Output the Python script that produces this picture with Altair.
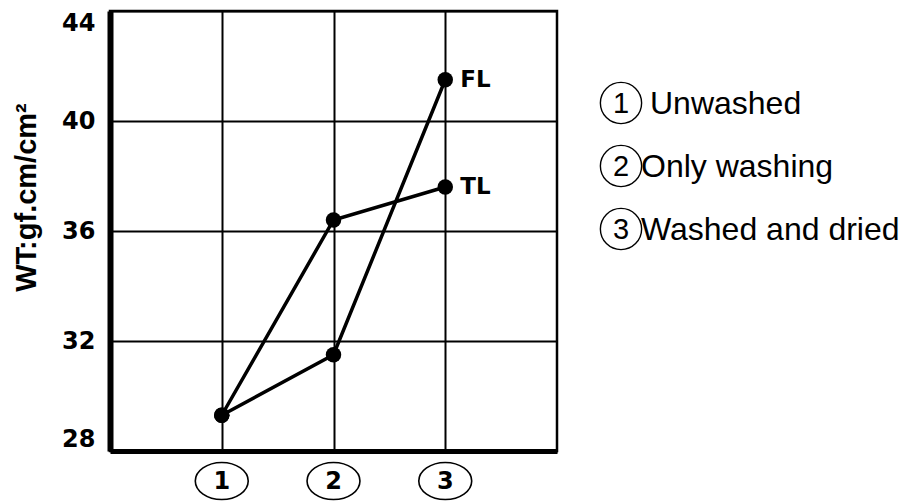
import altair as alt
import pandas as pd

# Treatment stages on the x axis and the two measured series
stages = [1, 2, 3]
stage_marks = ["1", "2", "3"]
series_names = ["FL", "TL"]
fl_values = [29.3, 31.5, 41.5]
tl_values = [29.3, 36.4, 37.6]
y_ticks = [28, 32, 36, 40, 44]
legend_labels = ["Unwashed", "Only washing", "Washed and dried"]

rows = []
for name, vals in zip(series_names, [fl_values, tl_values]):
    for s, v in zip(stages, vals):
        rows.append({"series": name, "stage": s, "wt": v})
df = pd.DataFrame(rows)
end_df = df[df["stage"] == stages[-1]]
stage_df = pd.DataFrame({"stage": stages, "mark": stage_marks})
legend_df = pd.DataFrame({"idx": list(range(len(stages))), "mark": stage_marks, "label": legend_labels})

# outline shapes for the circled stage numbers
ELLIPSE = "M -1 0 A 1 0.7 0 1 0 1 0 A 1 0.7 0 1 0 -1 0 Z"
CIRCLE = "M -1 0 A 1 1 0 1 0 1 0 A 1 1 0 1 0 -1 0 Z"

x_scale = alt.Scale(domain=[0, 4], nice=False, zero=False)
y_scale = alt.Scale(domain=[28, 44], nice=False, zero=False)

x_enc = alt.X(
    "stage:Q", scale=x_scale,
    axis=alt.Axis(values=stages, grid=True, labels=False, ticks=False, title=None,
                  domainColor="black", domainWidth=5, gridColor="black",
                  gridWidth=2, gridOpacity=1),
)
y_enc = alt.Y(
    "wt:Q", scale=y_scale,
    axis=alt.Axis(values=y_ticks, grid=True, ticks=False, domainColor="black",
                  domainWidth=6, gridColor="black", gridWidth=2, gridOpacity=1,
                  labelFont="DejaVu Sans", labelFontWeight="bold", labelFontSize=24,
                  labelColor="black", labelPadding=15, labelFlush=True,
                  title="WT:gf.cm/cm²", titleFont="Liberation Sans",
                  titleFontWeight="bold", titleFontSize=29, titleColor="black",
                  titleAngle=-90, titleAlign="center", titleBaseline="middle",
                  titleX=-84, titleY=186),
)

lines = alt.Chart(df).mark_line(color="black", strokeWidth=3.5).encode(
    x=x_enc, y=y_enc, detail="series:N"
)
points = alt.Chart(df).mark_circle(color="black", size=240, opacity=1).encode(
    x="stage:Q", y="wt:Q"
)
end_labels = alt.Chart(end_df).mark_text(
    align="left", baseline="middle", dx=15, font="DejaVu Sans", fontWeight="bold",
    fontSize=23, color="black"
).encode(x="stage:Q", y="wt:Q", text="series:N")

stage_rings = alt.Chart(stage_df).mark_point(
    shape=ELLIPSE, size=2800, filled=False, strokeWidth=1.6, color="black", opacity=1
).encode(x="stage:Q", y=alt.value(470))
stage_text = alt.Chart(stage_df).mark_text(
    baseline="middle", font="DejaVu Sans", fontWeight="bold", fontSize=24, color="black"
).encode(x="stage:Q", y=alt.value(471), text="mark:N")

main = alt.layer(lines, points, end_labels, stage_rings, stage_text)

legend_y = alt.Y("idx:Q", scale=alt.Scale(domain=[0, 2], range=[92, 218]), axis=None)
legend_base = alt.Chart(legend_df)
legend_rings = legend_base.mark_point(
    shape=CIRCLE, size=1700, filled=False, strokeWidth=1.4, color="black", opacity=1
).encode(x=alt.value(511), y=legend_y)
legend_nums = legend_base.mark_text(
    baseline="middle", font="Liberation Sans", fontSize=29, color="black", dy=1
).encode(x=alt.value(511), y=legend_y, text="mark:N")
# the first entry sits a little further from its ring than the others
legend_text_first = legend_base.mark_text(
    align="left", baseline="middle", font="Liberation Sans", fontSize=32, color="black", dy=1
).encode(x=alt.value(540), y=legend_y, text="label:N").transform_filter("datum.idx == 0")
legend_text_rest = legend_base.mark_text(
    align="left", baseline="middle", font="Liberation Sans", fontSize=32, color="black", dy=1
).encode(x=alt.value(531), y=legend_y, text="label:N").transform_filter("datum.idx > 0")

legend = alt.layer(legend_rings, legend_nums, legend_text_first, legend_text_rest)

chart = alt.layer(main, legend).resolve_scale(y="independent").properties(
    width=447, height=440,
    autosize=alt.AutoSizeParams(type="none"),
    padding={"left": 110, "top": 11, "right": 348, "bottom": 52},
    background="white",
).configure_view(stroke="black", strokeWidth=2.5)

chart.save("out.html", embed_options={"renderer": "svg", "actions": False})
